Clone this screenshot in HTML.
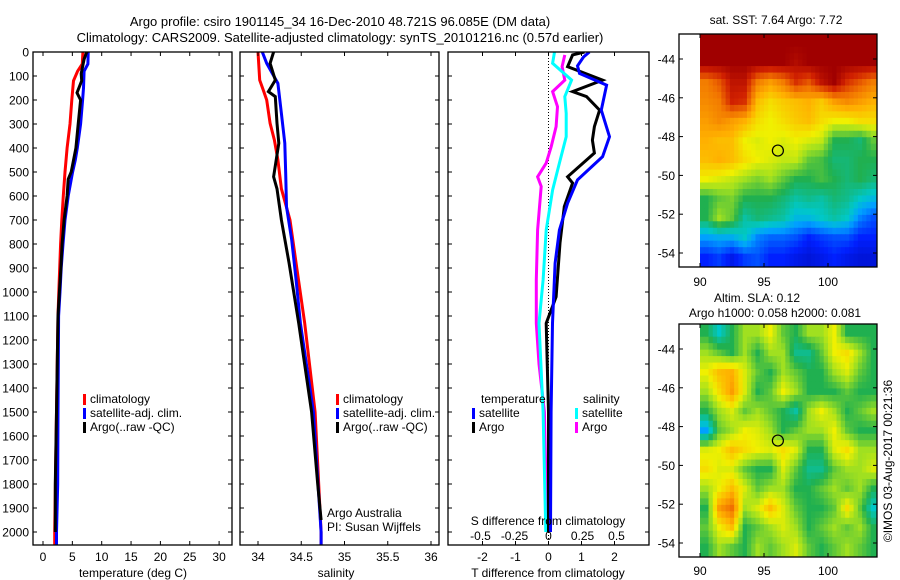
<!DOCTYPE html>
<html><head><meta charset="utf-8"><style>
body{margin:0;background:#fff;}
svg{display:block;font-family:"Liberation Sans",sans-serif;font-size:12px;}
</style></head><body>
<svg id="c" width="900" height="580" viewBox="0 0 900 580" xmlns="http://www.w3.org/2000/svg">
<defs>
<clipPath id="cp1"><rect x="33" y="52" width="199" height="493"/></clipPath>
<clipPath id="cp2"><rect x="240" y="52" width="199" height="493"/></clipPath>
<clipPath id="cp3"><rect x="448" y="52" width="201" height="493"/></clipPath>
<clipPath id="cm1"><rect x="700" y="34" width="177" height="233"/></clipPath>
<clipPath id="cm2"><rect x="700" y="324" width="177" height="233"/></clipPath>
</defs>
<text x="340" y="26" text-anchor="middle" font-size="13">Argo profile: csiro 1901145_34 16-Dec-2010 48.721S 96.085E (DM data)</text>
<text x="340" y="42" text-anchor="middle" font-size="13">Climatology: CARS2009. Satellite-adjusted climatology: synTS_20101216.nc (0.57d earlier)</text>
<g id="g"></g>
</svg>
<script>
// ---- data ----
const tDepth=[0,50,80,120,200,300,400,500,600,700,800,900,1000,1100,1500,2000,2060];
const tClim=[6.8,6.7,5.9,5.2,4.9,4.6,4.1,3.75,3.45,3.2,3.0,2.85,2.7,2.55,2.3,2.0,2.0];
const tSatDepth=[0,50,80,150,200,300,400,450,500,600,700,800,900,1000,1100,1500,1800,2000,2060];
const tSat=[7.7,7.65,7.0,6.9,6.75,6.4,5.85,5.5,5.05,4.3,3.75,3.4,3.1,2.9,2.65,2.55,2.5,2.3,2.3];
const tArgoDepth=[0,30,90,120,170,200,300,400,500,530,600,700,800,900,1000,1100,1500,1800,2000];
const tArgo=[7.45,7.0,6.5,6.6,5.8,6.4,6.0,5.6,4.8,4.3,4.1,3.6,3.25,3.05,2.8,2.55,2.3,2.1,2.1];

const sClimDepth=[0,117,158,200,297,367,450,570,700,880,1130,1500,2000,2060];
const sClim=[34.0,34.02,34.06,34.1,34.14,34.19,34.23,34.27,34.37,34.44,34.54,34.66,34.73,34.73];
const sSatDepth=[0,47,131,256,380,506,645,783,950,1130,1500,2000,2060];
const sSat=[34.05,34.1,34.23,34.27,34.31,34.32,34.33,34.39,34.44,34.49,34.64,34.73,34.73];
const sArgoDepth=[0,47,117,165,186,297,380,520,570,700,880,1130,1500,1800,1950];
const sArgo=[34.18,34.14,34.2,34.12,34.2,34.22,34.24,34.18,34.22,34.27,34.36,34.47,34.62,34.69,34.73];

const dTSatDepth=[0,21,58,89,138,242,353,436,533,630,742,880,1130,1500,2000];
const dTSat=[1.24,1.06,0.88,0.94,1.76,1.6,1.85,1.64,0.88,0.58,0.33,0.2,0.12,0.08,0.06];
const dTArgoDepth=[0,12,61,117,165,186,242,311,367,421,520,546,644,796,1020,1130,1500,2000];
const dTArgo=[1.09,0.73,0.58,1.64,0.73,1.15,1.55,1.39,1.33,1.39,0.58,0.73,0.48,0.35,0.23,-0.07,0.0,0.0];
const dSSatDepth=[0,47,117,186,256,353,463,575,742,950,1130,1500,2000];
const dSSat=[0.044,0.03,0.17,0.12,0.13,0.13,0.08,0.03,-0.017,-0.04,-0.07,-0.04,-0.02];
const dSArgoDepth=[12,61,117,165,228,311,394,463,520,560,742,950,1130,1300,1500,2000];
const dSArgo=[0.12,0.1,0.12,0.03,0.066,0.056,0.02,-0.017,-0.08,-0.054,-0.08,-0.09,-0.09,-0.07,-0.03,-0.01];

const depthTicks=[0,100,200,300,400,500,600,700,800,900,1000,1100,1200,1300,1400,1500,1600,1700,1800,1900,2000];
const tTicks=[0,5,10,15,20,25,30];
const sTicks=[34,34.5,35,35.5,36];
const sTickLabels=["34","34.5","35","35.5","36"];
const dTTicks=[-2,-1,0,1,2];
const dSTicks=[-0.5,-0.25,0,0.25,0.5];
const dSTickLabels=["-0.5","-0.25","0","0.25","0.5"];

const sstGrid=[
[1,1,1,1,1,1,1,1,1,1,1,1,1,1],
[1,1,1,1,1,1,1,0.97,1,1,1,1,1,1],
[0.8,0.85,0.95,0.95,0.8,0.75,0.8,0.9,0.85,0.95,1,0.9,0.85,0.8],
[0.78,0.8,0.92,0.9,0.7,0.65,0.68,0.7,0.72,0.68,0.75,0.78,0.75,0.72],
[0.75,0.78,0.75,0.72,0.65,0.62,0.65,0.68,0.7,0.65,0.62,0.62,0.65,0.65],
[0.72,0.7,0.7,0.62,0.6,0.62,0.6,0.62,0.6,0.58,0.45,0.45,0.42,0.5],
[0.7,0.72,0.7,0.65,0.62,0.6,0.58,0.58,0.5,0.48,0.42,0.42,0.45,0.45],
[0.62,0.6,0.58,0.55,0.52,0.55,0.5,0.45,0.45,0.48,0.45,0.42,0.45,0.42],
[0.45,0.5,0.52,0.45,0.45,0.45,0.42,0.38,0.4,0.38,0.42,0.4,0.35,0.32],
[0.45,0.55,0.5,0.38,0.42,0.4,0.38,0.32,0.32,0.35,0.38,0.35,0.25,0.2],
[0.28,0.3,0.3,0.35,0.25,0.22,0.22,0.2,0.15,0.18,0.2,0.2,0.15,0.15],
[0.15,0.18,0.12,0.18,0.2,0.15,0.15,0.12,0.1,0.12,0.15,0.12,0.1,0.1]];
const slaGrid=[
[0.45,0.35,0.45,0.55,0.55,0.62,0.5,0.45,0.55,0.55,0.62,0.45,0.45,0.45],
[0.55,0.5,0.45,0.55,0.45,0.55,0.55,0.4,0.4,0.5,0.62,0.65,0.55,0.45],
[0.62,0.7,0.72,0.6,0.5,0.45,0.55,0.5,0.45,0.45,0.55,0.6,0.5,0.45],
[0.55,0.65,0.75,0.6,0.45,0.5,0.62,0.55,0.45,0.45,0.45,0.5,0.45,0.45],
[0.45,0.55,0.6,0.5,0.55,0.5,0.45,0.38,0.55,0.62,0.55,0.45,0.5,0.55],
[0.28,0.5,0.55,0.62,0.6,0.55,0.45,0.5,0.55,0.55,0.62,0.5,0.45,0.45],
[0.6,0.62,0.7,0.65,0.62,0.6,0.65,0.6,0.45,0.45,0.6,0.65,0.55,0.55],
[0.65,0.6,0.6,0.5,0.45,0.45,0.6,0.5,0.4,0.4,0.5,0.55,0.55,0.6],
[0.55,0.62,0.7,0.6,0.5,0.55,0.55,0.45,0.45,0.5,0.55,0.5,0.55,0.45],
[0.45,0.75,0.82,0.55,0.6,0.7,0.6,0.5,0.45,0.45,0.5,0.65,0.5,0.35],
[0.5,0.62,0.7,0.45,0.5,0.55,0.6,0.55,0.45,0.5,0.55,0.5,0.55,0.45],
[0.45,0.55,0.5,0.45,0.55,0.5,0.55,0.6,0.5,0.45,0.5,0.55,0.5,0.45]];
const latTicks=[-44,-46,-48,-50,-52,-54];
const lonTicks=[90,95,100];
const argoLon=96.085, argoLat=-48.721;

// ---- scales ----
const NS="http://www.w3.org/2000/svg";
const G=document.getElementById('g');
function el(tag,attrs,parent,txt){const e=document.createElementNS(NS,tag);for(const k in attrs)e.setAttribute(k,attrs[k]);if(txt!==undefined)e.textContent=txt;(parent||G).appendChild(e);return e;}
const yD=d=>52+d*0.24;
const xT=t=>43+t*5.87;
const xS=s=>258+(s-34)*86.5;
const xDT=v=>548.5+v*33;
const xDS=v=>548.5+v*136;
const lonX=l=>700+(l-90)*12.8;
const latY1=l=>59+(-44-l)*19.4;
const latY2=l=>349+(-44-l)*19.4;

function line(xs,ds,xf,color,clip,name,w){
  const pts=xs.map((v,i)=>xf(v).toFixed(1)+','+yD(ds[i]).toFixed(1)).join(' ');
  const p=el('polyline',{points:pts,fill:'none',stroke:color,'stroke-width':w||3,'clip-path':'url(#'+clip+')','stroke-linejoin':'miter'});
  
  
}
function box(x,y,w,h,name){const r=el('rect',{x:x,y:y,width:w,height:h,fill:'none',stroke:'#000','stroke-width':1.3});
  
  }
function depthAxis(x0,x1,labels){
  depthTicks.forEach(d=>{const y=yD(d);
    el('line',{x1:x0,y1:y,x2:x0+4,y2:y,stroke:'#000'});
    el('line',{x1:x1,y1:y,x2:x1-4,y2:y,stroke:'#000'});
    if(labels){const t=el('text',{x:29,y:y+4.5,'text-anchor':'end'},G,String(d));
      
      }
  });
}
function xTicks(ticks,labels,xf,y0,y1,ly){
  ticks.forEach((v,i)=>{const x=xf(v);
    el('line',{x1:x,y1:y1,x2:x,y2:y1-4,stroke:'#000'});
    el('line',{x1:x,y1:y0,x2:x,y2:y0+4,stroke:'#000'});
    if(ly){const t=el('text',{x:x,y:ly,'text-anchor':'middle'},G,labels[i]);
      
      }
  });
}
function legend(x,y,color,label){
  const m=el('rect',{x:x,y:y-9,width:3,height:11,fill:color});
  
  
  const t=el('text',{x:x+7,y:y},G,label);
  
  
}
function txt(x,y,s,anchor,name){const t=el('text',{x:x,y:y,'text-anchor':anchor||'start'},G,s);
  
  return t;}

// ---- panel 1: temperature ----
line(tClim,tDepth,xT,'#f00','cp1','temp-climatology-line');
line(tSat,tSatDepth,xT,'#00f','cp1','temp-satellite-line');
line(tArgo,tArgoDepth,xT,'#000','cp1','temp-argo-line');
box(33,52,199,493,'temperature-panel');
depthAxis(33,232,true);
xTicks(tTicks,tTicks.map(String),xT,52,545,561);
txt(133,577,'temperature (deg C)','middle','temperature-axis-title');
legend(83,403,'#f00','climatology');
legend(83,417,'#00f','satellite-adj. clim.');
legend(83,431,'#000','Argo(..raw -QC)');

// ---- panel 2: salinity ----
line(sClim,sClimDepth,xS,'#f00','cp2','sal-climatology-line');
line(sSat,sSatDepth,xS,'#00f','cp2','sal-satellite-line');
line(sArgo,sArgoDepth,xS,'#000','cp2','sal-argo-line');
box(240,52,199,493,'salinity-panel');
depthAxis(240,439,false);
xTicks(sTicks,sTickLabels,xS,52,545,561);
txt(336,577,'salinity','middle','salinity-axis-title');
legend(336,403,'#f00','climatology');
legend(336,417,'#00f','satellite-adj. clim.');
legend(336,431,'#000','Argo(..raw -QC)');
txt(327,517,'Argo Australia','start','operator-label');
txt(327,531,'PI: Susan Wijffels','start','pi-label');

// ---- panel 3: differences ----
el('line',{x1:548.5,y1:52,x2:548.5,y2:545,stroke:'#000','stroke-dasharray':'1,2'});
line(dSArgo,dSArgoDepth,xDS,'#f0f','cp3','sal-diff-argo-line');
line(dSSat,dSSatDepth,xDS,'#0ff','cp3','sal-diff-satellite-line');
line(dTArgo,dTArgoDepth,xDT,'#000','cp3','temp-diff-argo-line');
line(dTSat,dTSatDepth,xDT,'#00f','cp3','temp-diff-satellite-line');
box(448,52,201,493,'difference-panel');
depthAxis(448,649,false);
xTicks(dTTicks,dTTicks.map(String),xDT,52,545,561);
dSTicks.forEach((v,i)=>{txt(xDS(v),540,dSTickLabels[i],'middle','s-diff-tick-label');});
txt(548,525,'S difference from climatology','middle','s-diff-axis-title');
txt(548,577,'T difference from climatology','middle','t-diff-axis-title');
txt(481,403,'temperature','start','legend-temperature-heading');
txt(583,403,'salinity','start','legend-salinity-heading');
legend(472,417,'#00f','satellite');
legend(472,431,'#000','Argo');
legend(575,417,'#0ff','satellite');
legend(575,431,'#f0f','Argo');

// ---- maps ----
const stops=[[0,[0,0,144]],[0.15,[0,32,255]],[0.28,[0,160,255]],[0.35,[0,200,200]],[0.45,[32,176,80]],[0.55,[160,224,32]],[0.62,[240,240,0]],[0.72,[255,176,0]],[0.82,[240,112,0]],[0.92,[208,32,0]],[1,[160,0,0]]];
function cmap(v){for(let i=1;i<stops.length;i++){if(v<=stops[i][0]){const a=stops[i-1],b=stops[i],f=(v-a[0])/(b[0]-a[0]);
  const c=a[1].map((q,k)=>Math.round(q+(b[1][k]-q)*f));return 'rgb('+c.join(',')+')';}}return 'rgb(160,0,0)';}
function sample(grid,fi,fj){
  const R=grid.length,C=grid[0].length;
  fi=Math.max(0,Math.min(C-1,fi));fj=Math.max(0,Math.min(R-1,fj));
  const i0=Math.floor(fi),j0=Math.floor(fj),i1=Math.min(C-1,i0+1),j1=Math.min(R-1,j0+1),a=fi-i0,b=fj-j0;
  return grid[j0][i0]*(1-a)*(1-b)+grid[j0][i1]*a*(1-b)+grid[j1][i0]*(1-a)*b+grid[j1][i1]*a*b;
}
function map(grid,latY,clip,y0,name,bottomLabelY){
  const g=el('g',{'clip-path':'url(#'+clip+')'});
  const SUB=3,step=1/SUB;
  for(let j=0;j<grid.length*SUB;j++)for(let i=0;i<grid[0].length*SUB;i++){
    const lon=90+i*step, lat=-42.7-j*step;
    const v=sample(grid,(i+0.5)/SUB-0.5,(j+0.5)/SUB-0.5);
    const r=el('rect',{x:lonX(lon).toFixed(2),y:latY(lat).toFixed(2),width:(12.8*step+0.6).toFixed(2),height:(19.4*step+0.6).toFixed(2),fill:cmap(v)},g);
    
    
  }
  const c=el('circle',{cx:lonX(argoLon),cy:latY(argoLat),r:5.5,fill:'none',stroke:'#000','stroke-width':1.2});
  
  
  box(679,y0,198,233,name);
  latTicks.forEach(l=>{const y=latY(l);
    el('line',{x1:679,y1:y,x2:683,y2:y,stroke:'#000'});el('line',{x1:877,y1:y,x2:873,y2:y,stroke:'#000'});
    txt(675,y+4.5,String(l),'end','lat-tick-label');});
  lonTicks.forEach(l=>{const x=lonX(l);
    el('line',{x1:x,y1:y0,x2:x,y2:y0+4,stroke:'#000'});el('line',{x1:x,y1:y0+233,x2:x,y2:y0+229,stroke:'#000'});
    txt(x,bottomLabelY,String(l),'middle','lon-tick-label');});
}
map(sstGrid,latY1,'cm1',34,'sst-map',286);
map(slaGrid,latY2,'cm2',324,'sla-map',575);
txt(776,24,'sat. SST: 7.64  Argo: 7.72','middle','sst-map-title');
txt(757,302,'Altim. SLA: 0.12','middle','sla-map-title');
txt(775,317,'Argo h1000: 0.058 h2000: 0.081','middle','sla-map-subtitle');
const cr=txt(0,0,'©IMOS 03-Aug-2017 00:21:36','middle','timestamp-credit');
cr.setAttribute('transform','translate(892,461) rotate(-90)');
</script>
</body></html>
